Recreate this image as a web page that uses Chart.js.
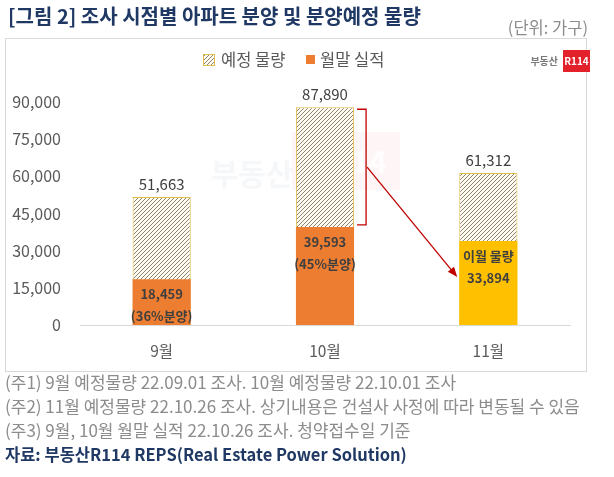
<!DOCTYPE html>
<html>
<head>
<meta charset="utf-8">
<script src="https://cdn.jsdelivr.net/npm/chart.js@4"></script>
<style>
  html, body { margin: 0; padding: 0; background: #fff; }
  canvas { display: block; }
</style>
</head>
<body>
<canvas id="chart" width="614" height="477"></canvas>
<script>
// data
const months = ['9월', '10월', '11월'];
const plannedTotal = [51663, 87890, 61312];     // 예정 물량
const monthEndActual = [18459, 39593, 33894];   // 월말 실적
const actualColors = ['#ED7D31', '#ED7D31', '#FFC000'];
const innerLabels = [['18,459', '(36%분양)'], ['39,593', '(45%분양)'], ['이월 물량', '33,894']];
const yTicks = [0, 15000, 30000, 45000, 60000, 75000, 90000];

const titleText = '[그림 2] 조사 시점별 아파트 분양 및 분양예정 물량';
const unitText = '(단위: 가구)';
const footnotes = [
  '(주1) 9월 예정물량 22.09.01 조사. 10월 예정물량 22.10.01 조사',
  '(주2) 11월 예정물량 22.10.26 조사. 상기내용은 건설사 사정에 따라 변동될 수 있음',
  '(주3) 9월, 10월 월말 실적 22.10.26 조사. 청약접수일 기준'
];
const sourceText = '자료: 부동산R114 REPS(Real Estate Power Solution)';

const FONT = '"Noto Sans CJK KR", "Noto Sans", sans-serif';
const canvas = document.getElementById('chart');
const ctx = canvas.getContext('2d');

// diagonal hatch used for the planned bars
function makeHatch() {
  const c = document.createElement('canvas');
  c.width = 4; c.height = 4;
  const g = c.getContext('2d');
  g.fillStyle = '#FFFBEE';
  g.fillRect(0, 0, 4, 4);
  g.strokeStyle = '#8C8278';
  g.lineWidth = 1;
  g.beginPath();
  g.moveTo(0, 4); g.lineTo(4, 0);
  g.moveTo(-1, 1); g.lineTo(1, -1);
  g.moveTo(3, 5); g.lineTo(5, 3);
  g.stroke();
  return ctx.createPattern(c, 'repeat');
}
const hatch = makeHatch();

const decor = {
  id: 'decor',
  beforeDraw(chart) {
    const c = chart.ctx;
    c.save();
    // title
    c.fillStyle = '#1F3864';
    c.font = 'bold 20px ' + FONT;
    c.textBaseline = 'middle';
    c.textAlign = 'left';
    c.fillText(titleText, 8, 16);
    // unit
    c.fillStyle = '#8C8C8C';
    c.font = '16.5px ' + FONT;
    c.textAlign = 'right';
    c.fillText(unitText, 588, 28);
    // chart frame
    c.strokeStyle = '#D9D9D9';
    c.lineWidth = 1;
    c.strokeRect(5.5, 38.5, 581, 333);
    // legend
    c.fillStyle = hatch;
    c.fillRect(203, 54, 12, 12);
    c.strokeStyle = '#E2BE4A';
    c.strokeRect(203.5, 54.5, 11, 11);
    c.fillStyle = '#595959';
    c.font = '16.5px ' + FONT;
    c.textAlign = 'left';
    c.fillText('예정 물량', 221, 60);
    c.fillStyle = '#ED7D31';
    c.fillRect(306, 55, 9, 9);
    c.fillStyle = '#595959';
    c.fillText('월말 실적', 320, 60);
    // logo
    c.fillStyle = '#7A7A7A';
    c.font = 'bold 10px ' + FONT;
    c.textAlign = 'right';
    c.fillText('부동산', 558, 61);
    c.fillStyle = '#E3212A';
    c.fillRect(563, 50, 27, 22);
    c.fillStyle = '#fff';
    c.font = 'bold 10px ' + FONT;
    c.textAlign = 'center';
    c.fillText('R114', 576.5, 61);
    // footnotes
    c.fillStyle = '#8C8C8C';
    c.font = '17px ' + FONT;
    c.textAlign = 'left';
    footnotes.forEach((t, i) => c.fillText(t, 5, 383 + i * 24, 603));
    c.fillStyle = '#1F3864';
    c.font = 'bold 16.5px ' + FONT;
    c.fillText(sourceText, 5, 455);
    c.restore();
  },
  beforeDatasetsDraw(chart) {
    // faint watermark
    const c = chart.ctx;
    c.save();
    c.fillStyle = 'rgba(250, 222, 224, 0.3)';
    c.fillRect(292, 132, 108, 58);
    c.fillStyle = 'rgba(225, 232, 238, 0.35)';
    c.font = 'bold 30px ' + FONT;
    c.textAlign = 'center';
    c.textBaseline = 'middle';
    c.fillText('부동산', 252, 174);
    c.fillStyle = 'rgba(255,255,255,0.8)';
    c.fillText('R114', 350, 162);
    c.restore();
  },
  afterDatasetsDraw(chart) {
    const c = chart.ctx;
    const totals = chart.getDatasetMeta(0).data;
    const actuals = chart.getDatasetMeta(1).data;
    c.save();
    c.textAlign = 'center';
    c.textBaseline = 'middle';
    totals.forEach((el, i) => {
      c.fillStyle = '#404040';
      c.font = '15px ' + FONT;
      c.fillText(plannedTotal[i].toLocaleString('en-US'), el.x, el.y - 13);
      const a = actuals[i];
      c.font = 'bold 13px ' + FONT;
      c.fillStyle = '#3F3F3F';
      c.fillText(innerLabels[i][0], a.x, a.y + 15);
      c.fillText(innerLabels[i][1], a.x, a.y + 37);
    });
    // bracket beside the October planned part
    const t = totals[1], a = actuals[1];
    const bx0 = t.x + t.width / 2 + 3, bx1 = bx0 + 9;
    const top = t.y + 2, bot = a.y - 2;
    c.strokeStyle = '#C00000';
    c.lineWidth = 1.3;
    c.beginPath();
    c.moveTo(bx0, top); c.lineTo(bx1, top); c.lineTo(bx1, bot); c.lineTo(bx0, bot);
    c.stroke();
    // arrow to November carry-over
    const n = actuals[2];
    const sx = bx1 + 1, sy = (top + bot) / 2;
    const ex = n.x - n.width / 2 - 2, ey = n.y + 36;
    const ang = Math.atan2(ey - sy, ex - sx);
    c.beginPath();
    c.moveTo(sx, sy);
    c.lineTo(ex - 8 * Math.cos(ang), ey - 8 * Math.sin(ang));
    c.stroke();
    c.fillStyle = '#C00000';
    c.beginPath();
    c.moveTo(ex, ey);
    c.lineTo(ex - 10 * Math.cos(ang) + 4 * Math.sin(ang), ey - 10 * Math.sin(ang) - 4 * Math.cos(ang));
    c.lineTo(ex - 10 * Math.cos(ang) - 4 * Math.sin(ang), ey - 10 * Math.sin(ang) + 4 * Math.cos(ang));
    c.closePath();
    c.fill();
    c.restore();
  }
};

Chart.defaults.font.family = FONT;

new Chart(canvas, {
  type: 'bar',
  data: {
    labels: months,
    datasets: [
      {
        label: '예정 물량',
        data: plannedTotal,
        backgroundColor: hatch,
        borderColor: '#E2BE4A',
        borderWidth: 1,
        order: 2
      },
      {
        label: '월말 실적',
        data: monthEndActual,
        backgroundColor: actualColors,
        borderWidth: 0,
        order: 1
      }
    ]
  },
  options: {
    responsive: false,
    animation: false,
    events: [],
    layout: { padding: { top: 102, right: 44, left: 0, bottom: 0 } },
    datasets: { bar: { categoryPercentage: 1, barPercentage: 0.356 } },
    plugins: {
      legend: { display: false },
      tooltip: { enabled: false },
      title: { display: false }
    },
    scales: {
      x: {
        stacked: true,
        grid: { display: false, drawTicks: false },
        border: { display: true, color: '#D9D9D9', width: 1 },
        ticks: { color: '#595959', font: { size: 15.5 }, padding: 17 },
        afterFit: scale => { scale.height = 152; }
      },
      y: {
        stacked: false,
        min: 0,
        max: 90000,
        grid: { display: false, drawTicks: false },
        border: { display: false },
        afterBuildTicks: scale => { scale.ticks = yTicks.map(v => ({ value: v })); },
        ticks: {
          color: '#595959',
          font: { size: 16 },
          padding: 19,
          callback: v => v.toLocaleString('en-US')
        },
        afterFit: scale => { scale.width = 80; }
      }
    }
  },
  plugins: [decor]
});
</script>
</body>
</html>
